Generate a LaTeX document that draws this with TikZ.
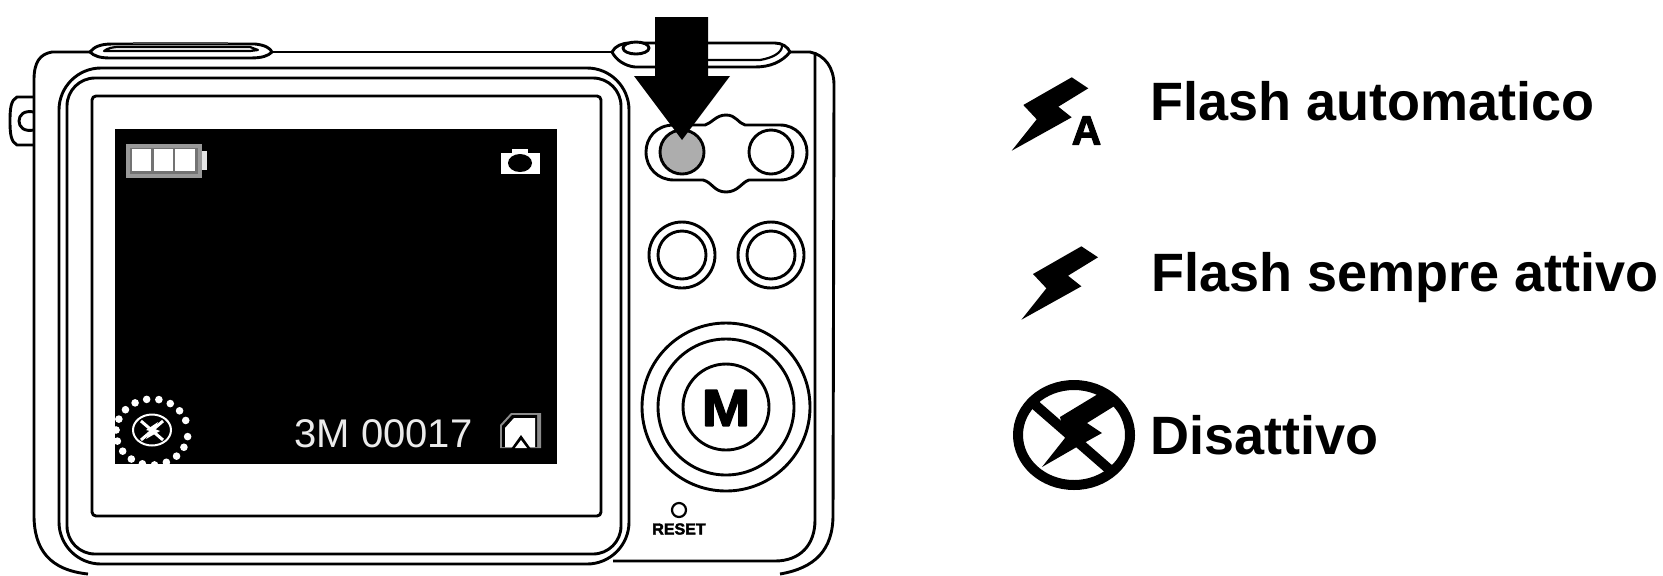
\documentclass[tikz,border=0pt]{standalone}
\usepackage{fontspec}
\setmainfont{Liberation Sans}
\newfontfamily\heavyfont[UprightFont={* Bold},FakeBold=2.5]{Liberation Sans}
\begin{document}
\begin{tikzpicture}[x=0.5pt,y=-0.5pt,line join=round,
  inkline/.style={draw=black,line width=1.45pt},
  thinline/.style={draw=black,line width=1.1pt},
  caption/.style={font=\fontsize{27}{30}\selectfont\bfseries,anchor=base west,inner sep=0pt,text=black},
  hud/.style={font=\fontsize{20}{22}\selectfont,anchor=base west,inner sep=0pt,text=white!92!black},
  boltshape/.style={fill=black,draw=none}]
\useasboundingbox (0,0) rectangle (1663,575);
\fill[white] (0,0) rectangle (1663,575);
% strap loop
\draw[inkline] (33,97) -- (17,97) .. controls (11,100) and (10,108) .. (10,121) .. controls (10,134) and (11,142) .. (17,145) -- (33,145);
\draw[inkline] (34,112) .. controls (24,110) and (19,115) .. (19,121) .. controls (19,127) and (24,132) .. (34,130);
% outer body
\draw[inkline] (90,52) -- (52,52) .. controls (40,54) and (34,62) .. (34,80) -- (34,515) .. controls (34,550) and (50,570) .. (88,574);
\draw[inkline] (272,52) -- (612,52);
\draw[inkline] (790,52) -- (810,52) .. controls (825,55) and (834,68) .. (834,85) -- (833,515) .. controls (833,550) and (815,568) .. (780,574);
% right panel line
\draw[inkline] (815,52) -- (815,520) .. controls (815,545) and (800,561) .. (775,561) -- (613,561);
% top left button
\draw[inkline,fill=white] (90,52) .. controls (94,47) and (100,44) .. (112,44) -- (255,44) .. controls (265,45) and (270,48) .. (272,52) .. controls (268,56) and (262,58) .. (250,58) -- (110,58) .. controls (100,58) and (94,56) .. (90,52) -- cycle;
\draw[thinline] (104,51) .. controls (108,48) and (112,47) .. (120,47) -- (250,47) -- (258,50) -- (250,51) -- (112,51) -- cycle;
\draw[draw=black!70,line width=1pt] (133,42.5) -- (228,42.5);
% shutter area
\draw[inkline,fill=white] (612,52) .. controls (615,46) and (622,43) .. (630,43) -- (775,43) .. controls (782,43) and (788,47) .. (790,52) .. controls (782,62) and (770,67) .. (755,67) -- (635,67) .. controls (625,66) and (616,60) .. (612,52) -- cycle;
\draw[thinline] (700,60) -- (760,60) .. controls (772,58) and (782,53) .. (782,46);
\draw[inkline,fill=white] (636,48) ellipse [x radius=13,y radius=6];
% frame
\draw[inkline,rounded corners=21] (59,68) rectangle (629,564);
\draw[inkline,rounded corners=14] (67,78) rectangle (621,554);
\draw[inkline,rounded corners=2] (92,96) rectangle (601,516);
% screen
\fill[black] (115,129) rectangle (557,464);
% battery
\fill[black!40!white] (126,144) rectangle (202,178);
\fill[black!55] (130,148) rectangle (198,174);
\fill[white] (132,149) rectangle (151,171);
\fill[white] (154,149) rectangle (173,171);
\fill[white] (175,149) rectangle (195,171);
\fill[white!90!black] (202,151) rectangle (207,170);
% camera icon
\fill[white] (501,153) rectangle (540,174);
\fill[white] (512,149) rectangle (528,154);
\fill[black] (520,163) ellipse [x radius=12,y radius=9];
% flash icon on screen
\begin{scope}
\clip (115,129) rectangle (557,464);
\foreach \a in {0,19.5,...,350}
  \fill[white] ({152+36*cos(\a+8)},{432+33*sin(\a+8)}) circle (3.8);
\end{scope}
\draw[white,line width=1pt] (152,430) ellipse [x radius=19,y radius=15.5];
\draw[white,line width=1.5pt] (141,421) -- (163,440) (141,440) -- (163,421);
\fill[white] (146,430) -- (158,422) -- (155,429) -- (160,431) -- (146,439) -- (150,431) -- cycle;
% counter
\node[hud] (counter) at (294,447) {3M 00017};
% card icon
\fill[black!45!white] (500,448) -- (500,425) -- (511,413) -- (541,413) -- (541,448) -- cycle;
\fill[black] (502,447) -- (502,426) -- (512,415) -- (537,415) -- (537,447) -- cycle;
\fill[white] (505,447) -- (505,428) -- (514,418) -- (535,418) -- (535,447) -- cycle;
\fill[black] (521,435) -- (511,449) -- (531,449) -- cycle;
\fill[white] (521,440) -- (515,448) -- (527,448) -- cycle;
% pill with bumps
\draw[inkline] (674,125) .. controls (656,125) and (646,138) .. (646,152) .. controls (646,168) and (658,180) .. (674,180) -- (703,180) .. controls (712,182) and (714,192) .. (726,192) .. controls (738,192) and (742,182) .. (749,180) -- (780,180) .. controls (796,180) and (807,168) .. (807,152) .. controls (807,138) and (796,125) .. (780,125) -- (745,125) .. controls (738,123) and (736,115) .. (726,115) .. controls (716,115) and (712,123) .. (705,125) -- cycle;
\draw[inkline,fill=black!32!white] (682,152) circle (22);
\draw[inkline,fill=white] (771,152) circle (22);
% lower buttons
\draw[inkline] (682,255) circle (33);
\draw[inkline] (682,255) circle (24);
\draw[inkline] (771,255) circle (33);
\draw[inkline] (771,255) circle (24);
% mode dial
\draw[inkline] (726,407) circle (84);
\draw[inkline] (726,407) circle (68);
\draw[inkline] (726,407) circle (43);
\node[inner sep=0pt,font=\fontsize{26}{28}\selectfont\heavyfont] (modekey) at (726,408) {\scalebox{1.12}[1]{M}};
% reset
\draw[thinline] (679,510) circle (7);
\node[inner sep=0pt,font=\fontsize{8}{9}\selectfont\heavyfont] (resetlabel) at (679,529) {RESET};
% arrow
\fill[black] (655,17) -- (708,17) -- (708,76) -- (730,76) -- (682,140) -- (634,76) -- (655,76) -- cycle;
% flash automatico
\fill[boltshape] (1071.7,77.3) -- (1088.3,88.3) -- (1058.3,106.7) -- (1071.7,117.3) -- (1011.7,150.7) -- (1036.7,119.3) -- (1023.3,105) -- cycle;
\node[inner sep=0pt,font=\fontsize{20.5}{22}\selectfont\heavyfont] (autoA) at (1086.5,130.5) {A};
\node[caption] (autoText) at (1150,120) {Flash automatico};
% flash sempre attivo
\fill[boltshape,shift={(9.7,169)}] (1071.7,77.3) -- (1088.3,88.3) -- (1058.3,106.7) -- (1071.7,117.3) -- (1011.7,150.7) -- (1036.7,119.3) -- (1023.3,105) -- cycle;
\node[caption] (alwaysText) at (1151,291) {Flash sempre attivo};
% disattivo
\draw[draw=black,line width=5pt] (1074,435) ellipse [x radius=56,y radius=50];
\draw[draw=black,line width=5pt] (1033,403) -- (1110,470);
\fill[boltshape] (1060,417) -- (1098,394) -- (1116,405) -- (1087,423) -- (1102,433) -- (1075,448) -- (1042,467) -- (1065,438) -- cycle;
\node[caption] (offText) at (1150,454) {Disattivo};
\end{tikzpicture}
\end{document}
